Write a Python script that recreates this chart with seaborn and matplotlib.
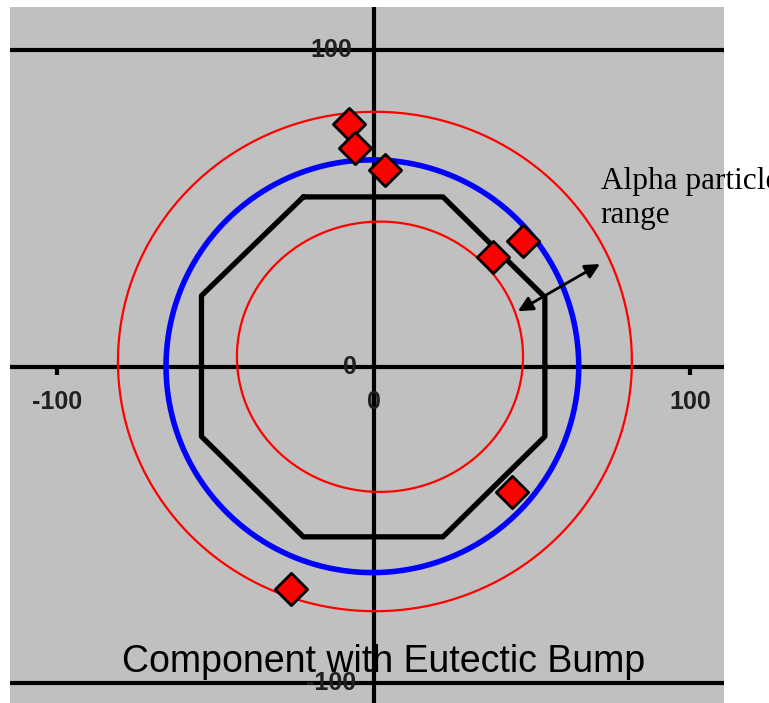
import numpy as np
import pandas as pd
import matplotlib
matplotlib.use("Agg")
import matplotlib.pyplot as plt
import seaborn as sns

# ---------------- data ----------------
point_x = [-7.9, -6.0, 3.5, 47.1, 37.6, 43.6, -26.2]
point_y = [76.8, 69.2, 62.2, 39.8, 34.8, -39.5, -70.1]

octagon_x = [-22.3, 21.8, 54.0, 54.0, 21.8, -22.3, -54.5, -54.5, -22.3]
octagon_y = [53.7, 53.7, 22.0, -22.0, -53.7, -53.7, -22.0, 22.5, 53.7]

# circles: centre x, centre y, radius x, radius y
bump_circle = [-0.5, 0.2, 65.2, 65.2]
outer_range = [0.3, 1.7, 81.2, 78.9]
inner_range = [1.9, 3.2, 45.2, 42.7]

x_tick_values = [-100, 0, 100]
y_tick_values = [100, 0, -100]
tick_labels = {-100: "-100", 0: "0", 100: "100"}

title_text = "Component with Eutectic Bump"
annot_lines = ["Alpha particle", "range"]


def ellipse_frame(c):
    t = np.linspace(0, 2 * np.pi, 361)
    return pd.DataFrame({"x": c[0] + c[2] * np.cos(t), "y": c[1] + c[3] * np.sin(t)})


sns.set_style("white")
plt.rcParams["text.color"] = "black"
fig = plt.figure(figsize=(7.69, 7.03), dpi=100)
ax = fig.add_axes([10 / 769, 0, 714 / 769, 696 / 703])
ax.set_facecolor("#C0C0C0")
ax.set_xlim(-115.0, 110.6)
ax.set_ylim(-106.2, 113.7)
for s in ax.spines.values():
    s.set_visible(False)
ax.set_xticks([])
ax.set_yticks([])

# axes / grid lines
ax.axhline(0, color="black", lw=3, zorder=1)
ax.axvline(0, color="black", lw=3, zorder=1)
ax.axhline(100, color="black", lw=3, zorder=1)
ax.axhline(-100, color="black", lw=3, zorder=1)
for xv in [-100, 100]:
    ax.plot([xv, xv], [0, -2.6], color="black", lw=3, solid_capstyle="butt", zorder=1)

# range circles
sns.lineplot(data=ellipse_frame(outer_range), x="x", y="y", sort=False, estimator=None,
             color="#FF0000", lw=1.6, ax=ax, zorder=2)
sns.lineplot(data=ellipse_frame(inner_range), x="x", y="y", sort=False, estimator=None,
             color="#FF0000", lw=1.6, ax=ax, zorder=2)
# bump circle
sns.lineplot(data=ellipse_frame(bump_circle), x="x", y="y", sort=False, estimator=None,
             color="#0000FF", lw=4.0, ax=ax, zorder=3)
# octagon
sns.lineplot(data=pd.DataFrame({"x": octagon_x, "y": octagon_y}), x="x", y="y", sort=False,
             estimator=None, color="black", lw=3.8, ax=ax, zorder=3)
# points
sns.scatterplot(x=point_x, y=point_y, marker="D", s=270, color="#FF0000",
                edgecolor="black", linewidth=2.0, ax=ax, zorder=5)

# tick labels
tick_kw = dict(fontsize=18, color="#202020", fontweight="bold",
               family=["Liberation Sans", "DejaVu Sans"])
for xv in x_tick_values:
    ax.text(xv, -11.2, tick_labels[xv], ha="center", va="center", **tick_kw)
ax.text(-7.0, 100, tick_labels[100], ha="right", va="center", **tick_kw)
ax.text(-5.5, 0, tick_labels[0], ha="right", va="center", **tick_kw)
ax.text(-5.5, -100, tick_labels[-100], ha="right", va="center", **tick_kw)

# arrow + annotation
ax.annotate("", xy=(45.5, 17.6), xytext=(71.4, 32.5),
            arrowprops=dict(arrowstyle="<|-|>", color="black", lw=2, mutation_scale=22,
                            shrinkA=0, shrinkB=0), zorder=6)
serif = ["Liberation Serif", "DejaVu Serif"]
ax.text(71.6, (367 - 189) / 3.165, annot_lines[0], ha="left", va="baseline",
        fontsize=22.5, family=serif, color="black", clip_on=False)
ax.text(71.6, (367 - 223) / 3.165, annot_lines[1], ha="left", va="baseline",
        fontsize=22.5, family=serif, color="black", clip_on=False)

# title
ax.text(3.2, (367 - 672) / 3.165, title_text, ha="center", va="baseline", fontsize=27,
        color="black", family=["Liberation Sans", "DejaVu Sans"], zorder=7)

fig.savefig("out.png", dpi=100)
